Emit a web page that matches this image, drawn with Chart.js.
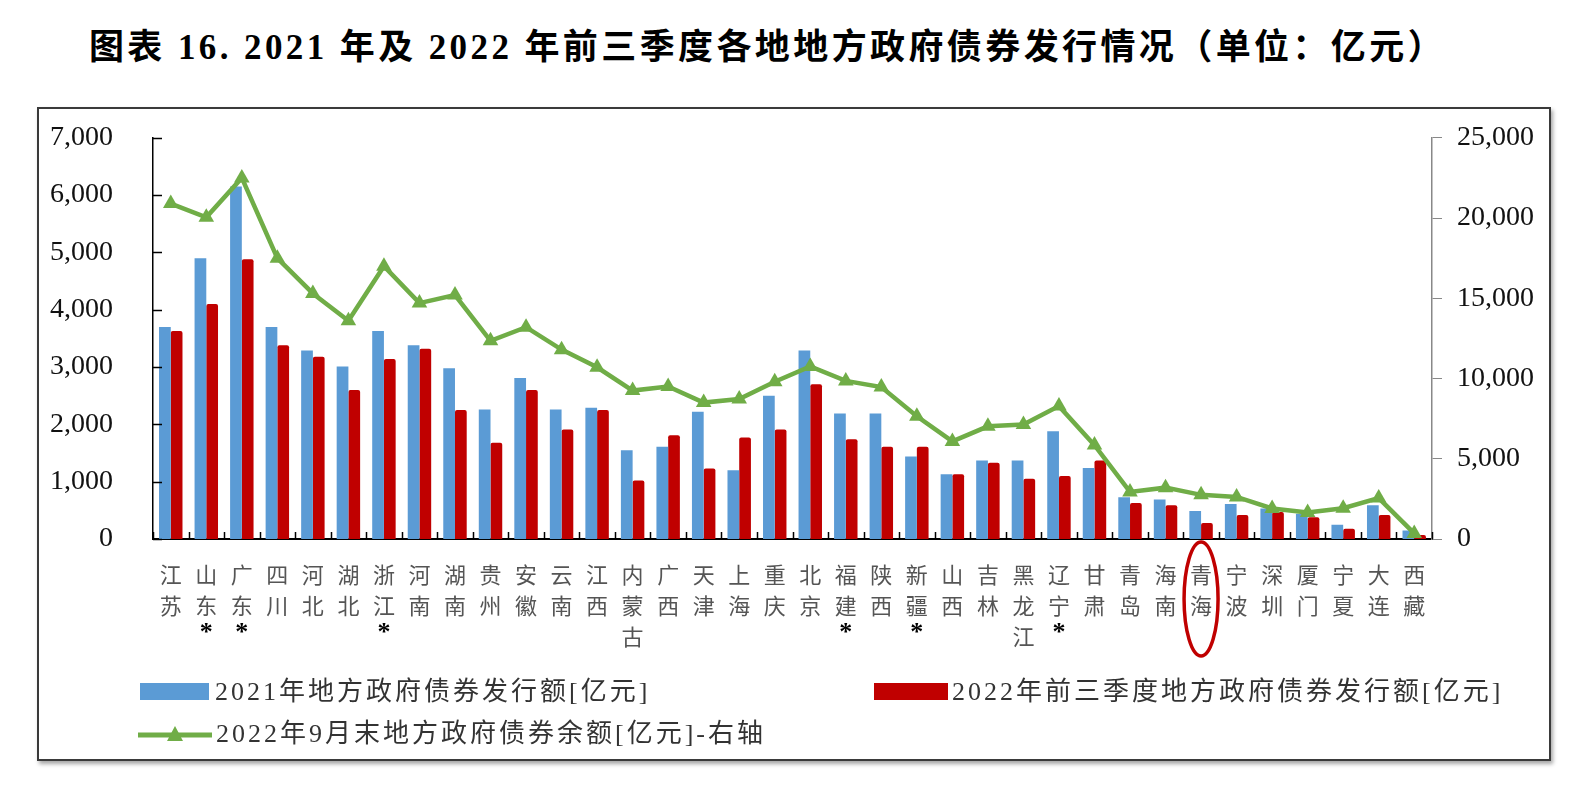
<!DOCTYPE html>
<html>
<head>
<meta charset="utf-8">
<script src="https://cdn.jsdelivr.net/npm/chart.js@4.4.1/dist/chart.umd.min.js"></script>
<style>
  body { margin: 0; background: #fff; width: 1577px; height: 804px; overflow: hidden; position: relative; }
  #title {
    position: absolute; left: 71px; top: 18px; width: 1393px; text-align: center;
    font-family: 'Liberation Serif', 'Noto Sans CJK SC', serif; font-weight: 700;
    font-size: 35px; letter-spacing: 3.4px; color: #000; white-space: nowrap;
  }
  #box {
    position: absolute; left: 37px; top: 107px; width: 1510px; height: 650px;
    border: 2px solid #3a3a3a; box-shadow: 2px 3px 4px rgba(0,0,0,0.35); background: #fff;
  }
  #wrap { position: absolute; left: 0; top: -20px; width: 1510px; height: 670px; }
  .leg {
    position: absolute; font-family: 'Liberation Serif', 'Noto Sans CJK SC', serif;
    font-size: 26px; letter-spacing: 3px; color: #333; white-space: nowrap; line-height: 30px;
  }
  .sw { position: absolute; }
</style>
</head>
<body>
<div id="title">图表 16. 2021 年及 2022 年前三季度各地地方政府债券发行情况（单位：亿元）</div>
<div id="box">
  <div id="wrap"><canvas id="chart"></canvas></div>
</div>
<div class="sw" style="left:140px;top:683px;width:69px;height:17px;background:#5B9BD5"></div>
<div class="leg" style="left:215px;top:677px">2021年地方政府债券发行额[亿元]</div>
<div class="sw" style="left:874px;top:683px;width:74px;height:17px;background:#C00000"></div>
<div class="leg" style="left:952px;top:677px">2022年前三季度地方政府债券发行额[亿元]</div>
<canvas id="legLine" width="74" height="24" style="position:absolute;left:138px;top:723px"></canvas>
<div class="leg" style="left:216px;top:719px">2022年9月末地方政府债券余额[亿元]-右轴</div>
<script>
const provinces = ['江苏','山东','广东','四川','河北','湖北','浙江','河南','湖南','贵州','安徽','云南',
  '江西','内蒙古','广西','天津','上海','重庆','北京','福建','陕西','新疆','山西','吉林','黑龙江',
  '辽宁','甘肃','青岛','海南','青海','宁波','深圳','厦门','宁夏','大连','西藏'];
const starred = ['山东','广东','浙江','福建','新疆','辽宁'];
const circled = '青海';

// 2021 issuance, 2022 Q1-Q3 issuance (left axis, 亿元)
const issue2021 = [3700,4900,6150,3700,3290,3010,3630,3380,2980,2260,2810,2260,
  2290,1550,1610,2220,1200,2500,3290,2190,2190,1440,1130,1370,1370,
  1880,1240,730,690,490,610,530,440,250,590,150];
const issue2022 = [3630,4100,4880,3380,3180,2600,3140,3320,2250,1680,2600,1910,
  2250,1020,1810,1230,1770,1910,2700,1740,1610,1610,1130,1330,1050,
  1100,1370,630,590,280,420,470,380,180,420,70];
// balance at end of Sep 2022 (right axis, 亿元)
const balance = [20900,20050,22500,17500,15300,13600,17000,14700,15200,12350,13200,11800,
  10700,9250,9500,8500,8720,9800,10750,9850,9470,7650,6080,7020,7130,
  8280,5850,2930,3200,2750,2620,1900,1650,1920,2550,350];

const leftTicks = [0, 1000, 2000, 3000, 4000, 5000, 6000, 7000];
const rightTicks = [0, 5000, 10000, 15000, 20000, 25000];

const BLUE = '#5B9BD5', RED = '#C00000', GREEN = '#70AD47';

const labels = provinces.map(p => p.split(''));
const numFmt = v => v.toLocaleString('en-US');

// inward ticks on left/bottom axes, asterisks, circle around one label
const extras = {
  id: 'extras',
  afterDraw(chart) {
    const { ctx, scales: { x, y } } = chart;
    ctx.save();
    ctx.strokeStyle = '#000';
    ctx.lineWidth = 1.5;
    ctx.beginPath();
    leftTicks.forEach(v => {
      const py = Math.round(y.getPixelForValue(v)) + 0.5;
      ctx.moveTo(x.left, py);
      ctx.lineTo(x.left + 9, py);
    });
    for (let i = 0; i <= provinces.length; i++) {
      const px = Math.round(x.getPixelForValue(i - 0.5)) + 0.5;
      ctx.moveTo(px, y.bottom);
      ctx.lineTo(px, y.bottom - 7);
    }
    ctx.stroke();

    ctx.fillStyle = '#000';
    ctx.font = "bold 26px 'Liberation Serif'";
    ctx.textAlign = 'center';
    ctx.textBaseline = 'middle';
    starred.forEach(p => {
      ctx.fillText('*', x.getPixelForValue(provinces.indexOf(p)), y.bottom + 94);
    });

    const cx = x.getPixelForValue(provinces.indexOf(circled));
    ctx.strokeStyle = RED;
    ctx.lineWidth = 3.5;
    ctx.beginPath();
    ctx.ellipse(cx, y.bottom + 60, 17, 57, 0, 0, Math.PI * 2);
    ctx.stroke();
    ctx.restore();
  }
};

new Chart(document.getElementById('chart'), {
  type: 'bar',
  data: {
    labels: labels,
    datasets: [
      {
        type: 'line',
        label: '2022年9月末地方政府债券余额[亿元]-右轴',
        data: balance,
        yAxisID: 'y1',
        borderColor: GREEN,
        backgroundColor: GREEN,
        borderWidth: 4.5,
        pointStyle: 'triangle',
        pointRadius: 9,
        pointBorderWidth: 0,
        tension: 0,
        order: 0
      },
      {
        label: '2021年地方政府债券发行额[亿元]',
        data: issue2021,
        backgroundColor: BLUE,
        yAxisID: 'y',
        order: 1
      },
      {
        label: '2022年前三季度地方政府债券发行额[亿元]',
        data: issue2022,
        backgroundColor: RED,
        borderRadius: 2,
        borderSkipped: 'bottom',
        yAxisID: 'y',
        order: 1
      }
    ]
  },
  options: {
    responsive: true,
    maintainAspectRatio: false,
    animation: false,
    layout: { padding: { top: 11, left: 0, right: 0, bottom: 0 } },
    datasets: { bar: { barPercentage: 1, categoryPercentage: 0.66 } },
    plugins: { legend: { display: false }, tooltip: { enabled: false } },
    scales: {
      x: {
        offset: true,
        grid: { display: false },
        border: { color: '#000', width: 2 },
        ticks: {
          color: '#555', maxRotation: 0, autoSkip: false, padding: 14,
          font: { family: "'Liberation Serif', 'Noto Sans CJK SC'", size: 22, lineHeight: 1.43 }
        },
        afterFit: s => { s.height = 220; }
      },
      y: {
        position: 'left', min: 0, max: 7000,
        afterBuildTicks: s => { s.ticks = leftTicks.map(v => ({ value: v })); },
        grid: { display: false },
        border: { color: '#000', width: 1.5 },
        ticks: {
          color: '#111', padding: 32, callback: numFmt,
          font: { family: "'Liberation Serif'", size: 28 }
        },
        afterFit: s => { s.width = 114; }
      },
      y1: {
        position: 'right', min: 0, max: 25000,
        afterBuildTicks: s => { s.ticks = rightTicks.map(v => ({ value: v })); },
        grid: { drawOnChartArea: false, drawTicks: true, tickLength: 10, color: '#888' },
        border: { color: '#888', width: 1.5 },
        ticks: {
          color: '#111', padding: 15, callback: numFmt,
          font: { family: "'Liberation Serif'", size: 28 }
        },
        afterFit: s => { s.width = 117; }
      }
    }
  },
  plugins: [extras]
});

// legend line sample
const lc = document.getElementById('legLine').getContext('2d');
lc.strokeStyle = GREEN; lc.lineWidth = 5;
lc.beginPath(); lc.moveTo(0, 12); lc.lineTo(74, 12); lc.stroke();
lc.fillStyle = GREEN;
lc.beginPath(); lc.moveTo(37, 3); lc.lineTo(45, 18); lc.lineTo(29, 18); lc.closePath(); lc.fill();
</script>
</body>
</html>
